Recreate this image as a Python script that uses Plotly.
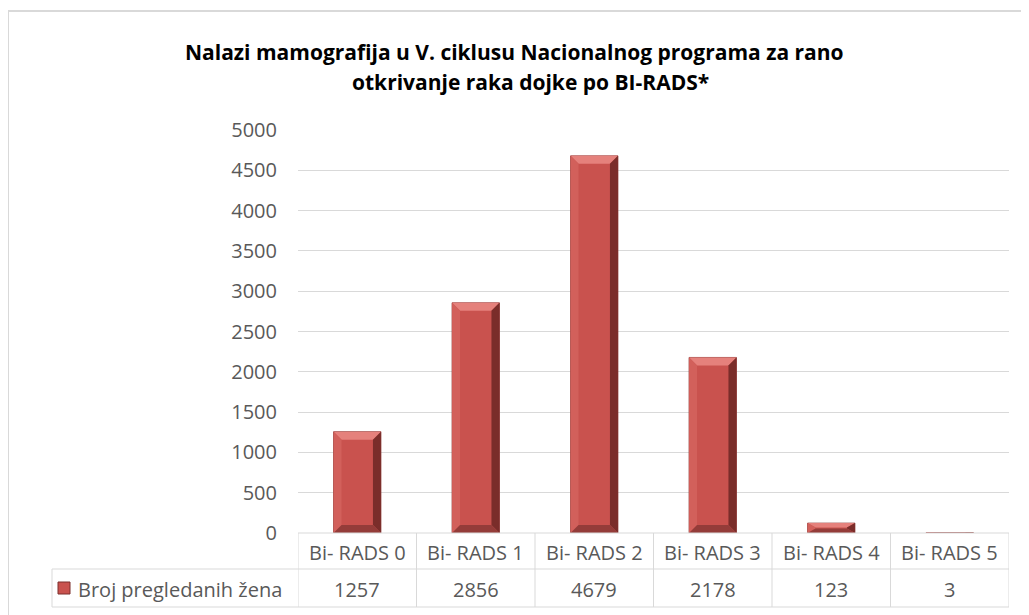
import plotly.graph_objects as go

categories = ["Bi- RADS 0", "Bi- RADS 1", "Bi- RADS 2", "Bi- RADS 3", "Bi- RADS 4", "Bi- RADS 5"]
values = [1257, 2856, 4679, 2178, 123, 3]
series_name = "Broj pregledanih žena"
title_lines = ["Nalazi mamografija u V. ciklusu Nacionalnog programa za rano", "otkrivanje raka dojke po BI-RADS*"]
y_ticks = list(range(0, 5001, 500))

OFF = 8  # page body margin
W, H = 1029 - OFF, 615 - OFF
PL, PR, PT, PB = 298, 1009, 130, 533  # plot area in screen px
L, R, T, B = PL - OFF, W - (PR - OFF), PT - OFF, H - (PB - OFF)
pw, ph = PR - PL, PB - PT
FONT = "'Open Sans', Lato, sans-serif"
GRAY = "#595959"
LINE = "#d9d9d9"
FACE = "#c9524e"
FS = 20

xs = list(range(len(categories)))
fig = go.Figure()
fig.add_trace(go.Bar(x=xs, y=values, width=0.4, name=series_name,
                     marker=dict(color=FACE, line=dict(color="#8e3a37", width=0.8)),
                     showlegend=False, hoverinfo="x+y"))

shapes = []
bw = 0.4
ux = len(categories) / pw
uy = 5000 / ph
for i, v in enumerate(values):
    if v <= 0:
        continue
    bx = 8 * ux
    by = min(8 * uy, v / 2.2)
    x0, x1 = i - bw / 2, i + bw / 2
    shapes.append(dict(type="path", xref="x", yref="y", layer="above", line=dict(width=0),
                       fillcolor="#e5817c",
                       path=f"M{x0},{v} L{x1},{v} L{x1-bx},{v-by} L{x0+bx},{v-by} Z"))
    shapes.append(dict(type="path", xref="x", yref="y", layer="above", line=dict(width=0),
                       fillcolor="#d2605b",
                       path=f"M{x0},{v} L{x0+bx},{v-by} L{x0+bx},{by} L{x0},0 Z"))
    shapes.append(dict(type="path", xref="x", yref="y", layer="above", line=dict(width=0),
                       fillcolor="#7a2d2a",
                       path=f"M{x1},{v} L{x1-bx},{v-by} L{x1-bx},{by} L{x1},0 Z"))
    shapes.append(dict(type="path", xref="x", yref="y", layer="above", line=dict(width=0),
                       fillcolor="#943c39",
                       path=f"M{x0},0 L{x1},0 L{x1-bx},{by} L{x0+bx},{by} Z"))


def px_x(p):
    return (p - PL) / pw


def px_y(p):
    return (PB - p) / ph


r1_top, r1_bot, r2_bot = 533, 569, 607
leg_left = 52
shapes.append(dict(type="line", xref="paper", yref="paper", x0=0, x1=1, y0=px_y(r1_top), y1=px_y(r1_top), line=dict(color=LINE, width=1)))
for yy in (r1_bot, r2_bot):
    shapes.append(dict(type="line", xref="paper", yref="paper", x0=px_x(leg_left), x1=1, y0=px_y(yy), y1=px_y(yy), line=dict(color=LINE, width=1)))
shapes.append(dict(type="line", xref="paper", yref="paper", x0=px_x(leg_left), x1=px_x(leg_left), y0=px_y(r1_bot), y1=px_y(r2_bot), line=dict(color=LINE, width=1)))
for k in range(len(categories) + 1):
    shapes.append(dict(type="line", xref="x", yref="paper", x0=k - 0.5, x1=k - 0.5, y0=px_y(r1_top), y1=px_y(r2_bot), line=dict(color=LINE, width=1)))
# chart border (left and top)
shapes.append(dict(type="line", xref="paper", yref="paper", x0=px_x(8), x1=px_x(8), y0=px_y(11), y1=px_y(700), line=dict(color="#d9d9d9", width=2)))
shapes.append(dict(type="line", xref="paper", yref="paper", x0=px_x(8), x1=px_x(1100), y0=px_y(11), y1=px_y(11), line=dict(color="#d9d9d9", width=2)))
# legend key
kx0, kx1, ky0, ky1 = 58, 70, 582, 594
shapes.append(dict(type="rect", xref="paper", yref="paper", x0=px_x(kx0), x1=px_x(kx1), y0=px_y(ky1), y1=px_y(ky0),
                   fillcolor=FACE, line=dict(color="#7d2f2c", width=1)))

annotations = []
for i, c in enumerate(categories):
    annotations.append(dict(x=i, y=px_y((r1_top + r1_bot) / 2 + 1), xref="x", yref="paper", text=c, showarrow=False,
                            font=dict(family=FONT, size=FS, color=GRAY), xanchor="center", yanchor="middle"))
    annotations.append(dict(x=i, y=px_y((r1_bot + r2_bot) / 2 + 1), xref="x", yref="paper", text=str(values[i]), showarrow=False,
                            font=dict(family=FONT, size=FS, color=GRAY), xanchor="center", yanchor="middle"))
annotations.append(dict(x=px_x(76), y=px_y((r1_bot + r2_bot) / 2 + 1), xref="paper", yref="paper", text=series_name, showarrow=False,
                        font=dict(family=FONT, size=FS, color=GRAY), xanchor="left", yanchor="middle"))
for j, (ln, yy, xx) in enumerate(zip(title_lines, (51, 81), (514, 530))):
    annotations.append(dict(x=px_x(xx), y=px_y(yy), xref="paper", yref="paper", text=ln, showarrow=False,
                            borderpad=0, height=27,
                            font=dict(family=FONT, size=21, color="#000000", weight="bold"), xanchor="center", yanchor="middle"))

fig.update_layout(
    width=W, height=H, margin=dict(l=L, r=R, t=T, b=B),
    paper_bgcolor="white", plot_bgcolor="white",
    xaxis=dict(range=[-0.5, len(categories) - 0.5], showticklabels=False, showgrid=False, zeroline=False, fixedrange=True),
    yaxis=dict(range=[0, 5000], tickvals=y_ticks, showgrid=True, gridcolor=LINE, gridwidth=1, zeroline=False,
               tickfont=dict(family=FONT, size=FS, color=GRAY), ticklabelstandoff=20, showline=False),
    shapes=shapes, annotations=annotations, showlegend=False,
)
fig.write_html("out.html")
